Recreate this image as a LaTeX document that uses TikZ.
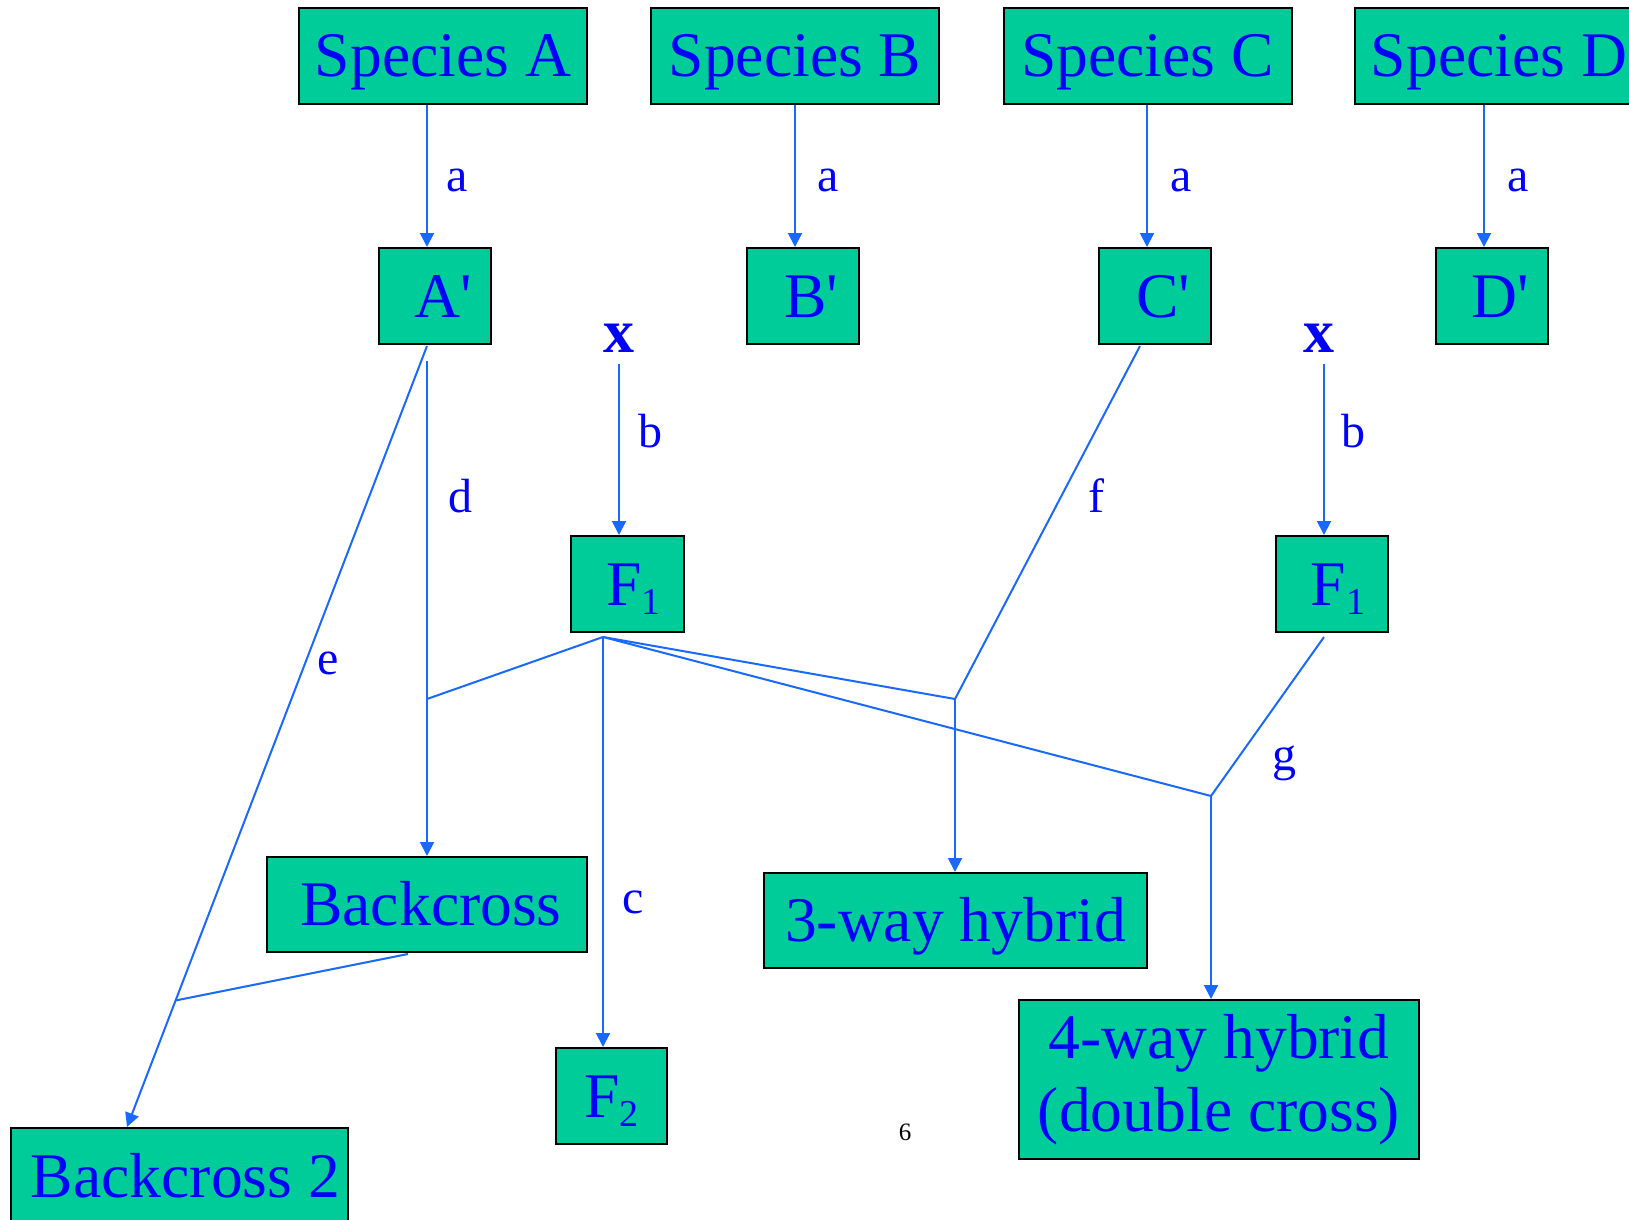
\documentclass[tikz,border=0pt]{standalone}
\usepackage{fontspec}
\setmainfont{Liberation Serif}
\usetikzlibrary{arrows.meta,calc}

\definecolor{boxgreen}{RGB}{0,204,153}
\definecolor{textblue}{RGB}{0,0,255}
\definecolor{wireblue}{RGB}{25,105,255}

% lowered small index, as in F1 and F2
\newcommand\lowidx[1]{\raisebox{-4.5pt}{\fontsize{19}{19}\selectfont #1}}
\newcommand\primed[1]{\hspace*{8pt}#1\textquotesingle}

\begin{document}
\begin{tikzpicture}[
  x=0.5pt, y=-0.5pt,
  cell/.style={draw=black, line width=1pt, fill=boxgreen, text=textblue,
    font=\fontsize{31.8}{36.5}\selectfont, inner sep=0pt, anchor=center},
  box/.style={cell, text height=21pt, text depth=0pt},
  species/.style={box, minimum width=144pt, minimum height=48pt},
  small/.style={box, minimum width=56pt, minimum height=48pt},
  lbl/.style={text=textblue, font=\fontsize{24}{28}\selectfont, inner sep=0pt},
  cross/.style={text=textblue, font=\bfseries\fontsize{31}{36}\selectfont, inner sep=0pt},
  wire/.style={draw=wireblue, line width=1pt},
  arr/.style={wire, -{Triangle[length=7pt,width=7pt]}}
]
\clip (0,0) rectangle (1629,1220);

% source species
\node[species] (SA) at (443,56)    {Species A};
\node[species] (SB) at (795,56)    {Species B};
\node[species] (SC) at (1147.5,56) {Species C};
\node[species] (SD) at (1499,56)   {Species D};

% treated forms
\node[small] (Ap) at (435,296)  {\primed{A}};
\node[small] (Bp) at (803,296)  {\primed{B}};
\node[small] (Cp) at (1155,296) {\primed{C}};
\node[small] (Dp) at (1492,296) {\primed{D}};

% crosses
\node[cross] (X1) at (619,338)  {x};
\node[cross] (X2) at (1319,338) {x};
\node[small, minimum width=56.5pt] (F1a) at (627.5,584) {\hspace*{6pt}F\lowidx{1}};
\node[small, minimum width=56pt]   (F1b) at (1332,584)  {\hspace*{6pt}F\lowidx{1}};

% offspring
\node[box, minimum width=160pt, minimum height=47.5pt] (BC) at (427,904.5) {\hspace*{4pt}Backcross};
\node[box, minimum width=191.5pt, minimum height=47.5pt] (H3) at (955.5,920.5) {3-way hybrid};
\node[small, minimum width=55.5pt] (F2) at (611.5,1096) {F\lowidx{2}};
\node[cell, minimum width=200pt, minimum height=79.5pt, align=center] (H4) at (1219,1079.5)
  {4-way hybrid\\(double cross)};
\node[box, minimum width=168.5pt, minimum height=48pt] (BC2) at (179.5,1176) {\hspace*{6pt}Backcross 2};

% page number
\node[inner sep=0pt, font=\fontsize{12.5}{15}\selectfont] (pg) at (905,1132) {6};

% arrows a
\coordinate (tA) at ($(Ap.north)+(-8,0)$);
\coordinate (tB) at ($(Bp.north)+(-8,0)$);
\coordinate (tC) at ($(Cp.north)+(-8,0)$);
\coordinate (tD) at ($(Dp.north)+(-8,0)$);
\draw[arr] (SA.south -| tA) -- (tA);
\draw[arr] (SB.south -| tB) -- (tB);
\draw[arr] (SC.south -| tC) -- (tC);
\draw[arr] (SD.south -| tD) -- (tD);
\node[lbl] (la1) at (457,180)  {a};
\node[lbl] (la2) at (828,180)  {a};
\node[lbl] (la3) at (1181,180) {a};
\node[lbl] (la4) at (1518,180) {a};

% arrows b
\coordinate (bS1) at ($(X1)+(0,26)$);
\coordinate (bS2) at ($(X2)+(5,26)$);
\draw[arr] (bS1) -- (bS1 |- F1a.north);
\draw[arr] (bS2) -- (bS2 |- F1b.north);
\node[lbl] (lb1) at (650,431)  {b};
\node[lbl] (lb2) at (1353,431) {b};

% e: A' to Backcross 2
\coordinate (eS) at ($(Ap.south)+(-8,1)$);
\coordinate (eE) at ($(BC2.north)+(-52.5,0)$);
\draw[arr] (eS) -- (eE);
\node[lbl] (le) at (328,663) {e};

% d: A' to Backcross
\coordinate (dS) at ($(Ap.south)+(-8,16)$);
\draw[arr] (dS) -- (dS |- BC.north);
\node[lbl] (ld) at (460,496) {d};

% F1 junctions
\coordinate (Fj) at ($(F1a.south)+(-24.5,4)$);
\coordinate (J1) at (427,699);
\coordinate (J3) at (955,699);
\coordinate (J4) at (1211,796);
\draw[wire] (Fj) -- (J1);
\draw[wire] (Fj) -- (J3);
\draw[wire] (Fj) -- (J4);

% c: F1 to F2
\draw[arr] (Fj) -- (Fj |- F2.north);
\node[lbl] (lc) at (633,902) {c};

% f: C' with F1 to 3-way hybrid
\draw[wire] ($(Cp.south)+(-15,1)$) -- (J3);
\draw[arr] (J3) -- (J3 |- H3.north);
\node[lbl] (lf) at (1096,496) {f};

% g: F1 with F1 to 4-way hybrid
\draw[wire] ($(F1b.south)+(-8,4)$) -- (J4);
\draw[arr] (J4) -- (J4 |- H4.north);
\node[lbl] (lg) at (1284,763) {g};

% Backcross joins line e
\coordinate (Bj) at ($(eS)!0.838!(eE)$);
\draw[wire] ($(BC.south)+(-19,1)$) -- (Bj);
\end{tikzpicture}
\end{document}
